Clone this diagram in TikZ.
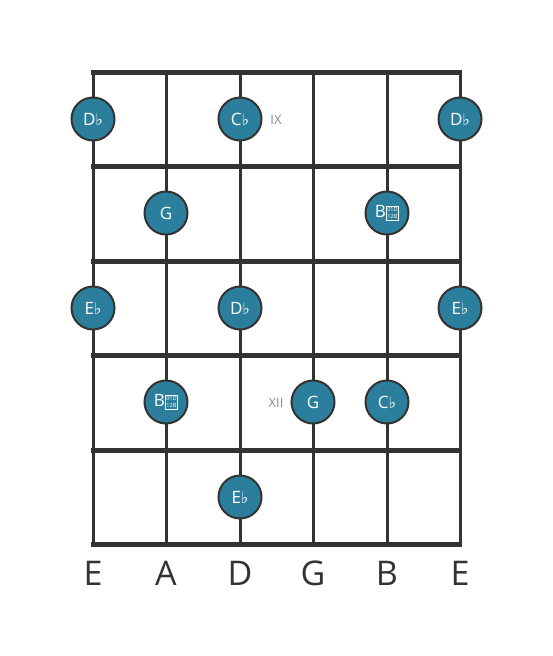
\documentclass[tikz,border=0pt]{standalone}
\usepackage{fontspec}
\setmainfont{Open Sans}
\newfontfamily\symfont{DejaVu Sans}
\definecolor{noteteal}{HTML}{2B7F9C}
\definecolor{boardgray}{HTML}{333333}
\definecolor{fretgray}{HTML}{8A8A8A}
\newcommand{\fl}{{\symfont\fontsize{16}{18}\selectfont ♭}}
% double flat: no installed family has it, drawn as the box the reference shows
\newcommand{\dfl}{{\setlength\fboxsep{0.6pt}\setlength\fboxrule{0.7pt}\raisebox{-1pt}{\fbox{\fontsize{5.6}{6.4}\selectfont\shortstack{01D\\[0.6pt]12B}}}}}
\tikzset{
	note/.style={circle, draw=boardgray, line width=2pt, fill=noteteal, minimum size=43pt, inner sep=0pt, text=white, font=\fontsize{17}{19}\selectfont},
	fretnum/.style={text=fretgray, font=\fontsize{13}{15}\selectfont},
	stringname/.style={text=boardgray, font=\fontsize{34}{36}\selectfont}
}

\begin{document}
\begin{tikzpicture}[x=1pt, y=-1pt]
			%%%%% START %%%%%
			\useasboundingbox[fill=white] (0, 0) rectangle (553, 656);
			
			% strings
			\draw[line width=3pt, color=boardgray] (93, 72) -- (93, 544);
			\draw[line width=3pt, color=boardgray] (166, 72) -- (166, 544);
			\draw[line width=3pt, color=boardgray] (240, 72) -- (240, 544);
			\draw[line width=3pt, color=boardgray] (313, 72) -- (313, 544);
			\draw[line width=3pt, color=boardgray] (387, 72) -- (387, 544);
			\draw[line width=3pt, color=boardgray] (460, 72) -- (460, 544);
			
			% frets
			\draw[line width=5pt, color=boardgray] (91, 72) -- (462, 72);
			\draw[line width=5pt, color=boardgray] (91, 166) -- (462, 166);
			\draw[line width=5pt, color=boardgray] (91, 261) -- (462, 261);
			\draw[line width=5pt, color=boardgray] (91, 355) -- (462, 355);
			\draw[line width=5pt, color=boardgray] (91, 450) -- (462, 450);
			\draw[line width=5pt, color=boardgray] (91, 544) -- (462, 544);
			
			% fret numbers
			\node[fretnum] (ix) at (276, 120) {IX};
			\node[fretnum] (xii) at (276, 403) {XII};
			
			% notes
			\node[note] (n1e) at (93, 119) {D\fl};
			\node[note] (n1d) at (240, 119) {C\fl};
			\node[note] (n1h) at (460, 119) {D\fl};
			
			\node[note] (n2a) at (166, 213) {G};
			\node[note] (n2b) at (387, 213) {B\dfl};
			
			\node[note] (n3e) at (93, 308) {E\fl};
			\node[note] (n3d) at (240, 308) {D\fl};
			\node[note] (n3h) at (460, 308) {E\fl};
			
			\node[note] (n4a) at (166, 402) {B\dfl};
			\node[note] (n4g) at (313, 402) {G};
			\node[note] (n4b) at (387, 402) {C\fl};
			
			\node[note] (n5d) at (240, 497) {E\fl};
			
			% string names
			\node[stringname] (se) at (93, 573) {E};
			\node[stringname] (sa) at (166, 573) {A};
			\node[stringname] (sd) at (240, 573) {D};
			\node[stringname] (sg) at (313, 573) {G};
			\node[stringname] (sb) at (387, 573) {B};
			\node[stringname] (sh) at (460, 573) {E};
			
			%%%%% END %%%%%
\end{tikzpicture}
\end{document}
